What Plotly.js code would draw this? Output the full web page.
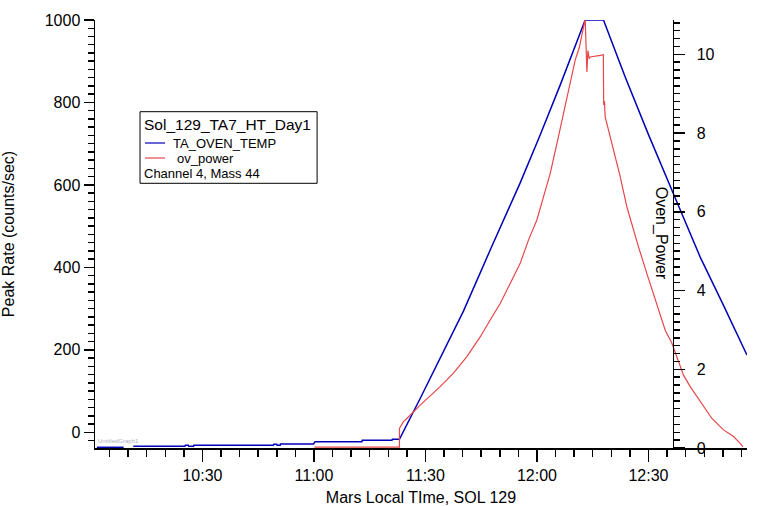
<!DOCTYPE html>
<html lang="en">
    <head>
        <meta charset="UTF-8" />
        <script src="https://cdn.plot.ly/plotly-3.0.1.min.js"></script>
        <title>Sol 129 oven run</title>
        <style>
            body { margin: 0; background: #fff; }
            #graph { width: 784px; height: 506px; }
        </style>
    </head>
    <body>
        <div id="graph"></div>
    </body>
    <script>
        // time is minutes after 10:00 Mars local time, SOL 129
        const tempMinutes = [1.6, 8.8, 10.0, 11.4, 25.3, 25.4, 26.2, 26.3, 27.6, 27.7, 49.1, 49.2, 50.0, 50.1, 50.9, 51.0,
            59.9, 60.3, 72.9, 73.0, 81.0, 81.1, 83.0, 88.57, 93.96, 100.22, 107.41, 115.48, 120.86,
            126.24, 132.97, 137.89, 143.73, 150.0, 156.73, 163.91, 170.18, 176.48];
        const tempValues = [-36.4, -36.4, null, -34, -34, -31.5, -31.5, -34, -34, -31.5, -31.5, -29.1, -29.1, -31.5, -31.5, -28.4,
            -28.4, -22.8, -22.8, -19.4, -19.4, -17, -17, 82.0, 179.0, 294.0, 442.0, 605.0, 721.0,
            842.0, 1000, 1000, 862.0, 722.0, 578.0, 425.0, 308.0, 187.5];

        const powerMinutes = [60.13, 83.0, 83.02, 84.08, 85.0, 85.88, 88.57, 93.96, 97.53, 101.14, 104.72, 107.41,
            110.10, 112.79, 115.48, 117.71, 119.97, 121.75, 123.55, 125.36, 127.13, 128.94, 130.28, 131.44,
            132.97, 133.43, 133.70, 134.05, 134.31, 137.0, 137.85, 137.95, 138.15, 138.35, 140.58, 142.39,
            144.19, 145.96, 147.31, 149.57, 151.35, 153.15, 154.50, 156.30, 158.07, 159.42, 161.22, 163.91,
            167.06, 170.18, 172.87, 174.67, 175.40];
        const powerValues = [0.02, 0.02, 0.50, 0.67, 0.75, 0.84, 1.09, 1.56, 1.90, 2.32, 2.82, 3.25,
            3.67, 4.18, 4.69, 5.28, 5.79, 6.38, 6.97, 7.73, 8.49, 9.26, 9.85, 10.19,
            10.90, 9.55, 10.09, 9.89, 9.93, 9.97, 9.99, 8.71, 8.81, 8.41, 7.56, 6.89,
            6.12, 5.53, 5.11, 4.43, 3.93, 3.42, 2.99, 2.66, 2.23, 1.85, 1.56, 1.18,
            0.75, 0.46, 0.29, 0.12, 0.03];

        const rateTicks = [0, 200, 400, 600, 800, 1000];
        const powerTicks = [0, 2, 4, 6, 8, 10];

        const seriesNames = ["TA_OVEN_TEMP", "ov_power"];
        const seriesColors = ["#0000b8", "#e8464a"];
        const legendTitle = "Sol_129_TA7_HT_Day1";
        const legendNote = "Channel 4, Mass 44";

        function toTime(m) {
            const t = new Date(Date.UTC(2000, 0, 1, 10, 0, 0) + m * 60000);
            return t.toISOString().replace("T", " ").replace("Z", "");
        }

        const font = "Liberation Sans, Arial, sans-serif";

        const data = [
            {
                x: tempMinutes.map(toTime),
                y: tempValues,
                name: seriesNames[0],
                type: "scatter",
                mode: "lines",
                line: { color: seriesColors[0], width: 1.5 },
                connectgaps: false,
            },
            {
                x: powerMinutes.map(toTime),
                y: powerValues,
                name: seriesNames[1],
                type: "scatter",
                mode: "lines",
                yaxis: "y2",
                line: { color: seriesColors[1], width: 1.2 },
            },
        ];

        // hand-made legend box, like the original graph's text box
        const px = (v) => (v - 95) / 651.7;
        const py = (v) => (448 - v) / 428;

        const layout = {
            width: 784,
            height: 506,
            margin: { l: 95, r: 37.3, t: 20, b: 58 },
            paper_bgcolor: "#fff",
            plot_bgcolor: "#fff",
            font: { family: font, size: 16, color: "#000" },
            showlegend: false,
            xaxis: {
                type: "date",
                range: [toTime(1.1), toTime(176.5)],
                tickformat: "%H:%M",
                dtick: 1800000,
                tick0: toTime(0),
                ticks: "outside",
                ticklen: 12,
                tickwidth: 1.5,
                tickcolor: "#000",
                minor: { dtick: 300000, ticks: "outside", ticklen: 7, tickwidth: 1.5, tickcolor: "#000" },
                showline: true,
                linecolor: "#000",
                linewidth: 1.5,
                showgrid: false,
                zeroline: false,
                ticklabelstandoff: 0,
                title: { text: "Mars Local TIme, SOL 129", font: { size: 16 }, standoff: 10 },
            },
            yaxis: {
                range: [-38.1, 1000],
                tickvals: rateTicks,
                ticks: "outside",
                ticklen: 10,
                tickwidth: 1.5,
                tickcolor: "#000",
                minor: { dtick: 20, ticks: "outside", ticklen: 6, tickwidth: 1.5, tickcolor: "#000" },
                showline: true,
                linecolor: "#000",
                linewidth: 1.5,
                showgrid: false,
                zeroline: false,
                title: { text: "Peak Rate (counts/sec)", font: { size: 16 }, standoff: 26 },
            },
            yaxis2: {
                overlaying: "y",
                anchor: "free",
                position: 0.8865,
                side: "right",
                range: [0, 10.87],
                tickvals: powerTicks,
                ticks: "outside",
                ticklen: 11,
                tickwidth: 1.5,
                tickcolor: "#000",
                minor: { dtick: 0.2, ticks: "outside", ticklen: 6, tickwidth: 1.5, tickcolor: "#000" },
                showline: true,
                linecolor: "#000",
                linewidth: 1.5,
                showgrid: false,
                zeroline: false,
                ticklabelstandoff: 8,
            },
            shapes: [
                {
                    type: "rect", xref: "paper", yref: "paper",
                    x0: px(140), x1: px(317), y0: py(183.3), y1: py(111.7),
                    line: { color: "#000", width: 1 },
                },
                {
                    type: "line", xref: "paper", yref: "paper",
                    x0: px(145), x1: px(165), y0: py(143), y1: py(143),
                    line: { color: seriesColors[0], width: 1.2 },
                },
                {
                    type: "line", xref: "paper", yref: "paper",
                    x0: px(145), x1: px(165), y0: py(158), y1: py(158),
                    line: { color: seriesColors[1], width: 1.2 },
                },
            ],
            annotations: [
                {
                    text: legendTitle, xref: "paper", yref: "paper",
                    x: px(142), y: py(124.5), xanchor: "left", yanchor: "middle",
                    showarrow: false, font: { size: 15.5 },
                },
                {
                    text: seriesNames[0], xref: "paper", yref: "paper",
                    x: px(171), y: py(143), xanchor: "left", yanchor: "middle",
                    showarrow: false, font: { size: 13 },
                },
                {
                    text: seriesNames[1], xref: "paper", yref: "paper",
                    x: px(175), y: py(158), xanchor: "left", yanchor: "middle",
                    showarrow: false, font: { size: 13 },
                },
                {
                    text: legendNote, xref: "paper", yref: "paper",
                    x: px(142), y: py(173.5), xanchor: "left", yanchor: "middle",
                    showarrow: false, font: { size: 13 },
                },
                {
                    text: "Oven_Power", xref: "paper", yref: "paper",
                    x: px(661), y: py(233), xanchor: "center", yanchor: "middle",
                    textangle: 90, showarrow: false, font: { size: 16 },
                },
                {
                    text: "UntitledGraph1", xref: "paper", yref: "paper",
                    x: px(96), y: py(446), xanchor: "left", yanchor: "bottom",
                    showarrow: false, font: { size: 6, color: "#b0b0c8" },
                },
            ],
        };

        Plotly.newPlot("graph", data, layout, { displayModeBar: false, staticPlot: true });
    </script>
</html>
